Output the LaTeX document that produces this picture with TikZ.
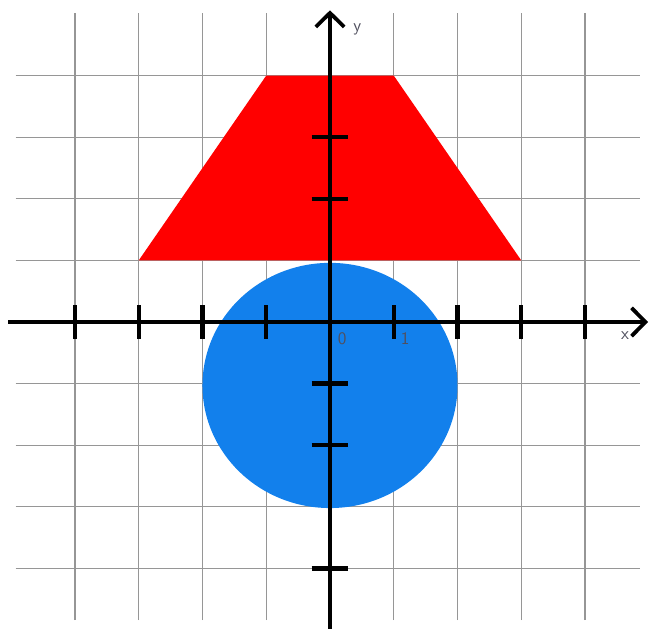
\documentclass[tikz,border=0pt]{standalone}
\usetikzlibrary{arrows.meta}
\definecolor{gridgray}{RGB}{150,150,150}
\definecolor{trapred}{RGB}{255,0,0}
\definecolor{discblue}{RGB}{18,128,236}
\definecolor{labgray}{RGB}{80,80,95}
\begin{document}
\begin{tikzpicture}[x=1.9125cm,y=1.848cm,
  gridline/.style={draw=gridgray,line width=1.0pt},
  axisline/.style={line width=3.2pt,-{Straight Barb[length=0.42cm,width=0.85cm,line width=3.2pt]}},
  tickmark/.style={line width=3.6pt},
  axlabel/.style={font=\sffamily\fontsize{15}{15}\selectfont,text=labgray,inner sep=0pt}]
\useasboundingbox (-5.176,-5.032) rectangle (5.035,5.227);
% grid
\foreach \i in {-4,...,4} {
  \draw[gridline] (\i,-4.84) -- (\i,5.02);
  \draw[gridline] (-4.93,\i) -- (4.86,\i);
}
% shapes
\fill[trapred] (-3,1) -- (3,1) -- (1,4) -- (-1,4) -- cycle;
\fill[discblue] (0,-1.03) circle [x radius=2, y radius=1.99];
% axes
\coordinate (xs) at (-5.05,0);
\coordinate (xe) at (4.99,0);
\coordinate (ys) at (0,-4.98);
\coordinate (ye) at (0,5.06);
\draw[axisline] (xs) -- (xe);
\draw[axisline] (ys) -- (ye);
% ticks
\foreach \i in {-4,-3,-2,-1,1,2,3,4}
  \draw[tickmark] (\i,-0.27) -- (\i,0.27);
\foreach \j in {3,2,-1,-2,-4}
  \draw[tickmark] (-0.29,\j) -- (0.29,\j);
% labels
\node[axlabel] (ylab) at (0.43,4.75) {y};
\node[axlabel] (xlab) at (4.63,-0.22) {x};
\node[axlabel] (olab) at (0.19,-0.27) {0};
\node[axlabel] (onelab) at (1.18,-0.27) {1};
\end{tikzpicture}
\end{document}
